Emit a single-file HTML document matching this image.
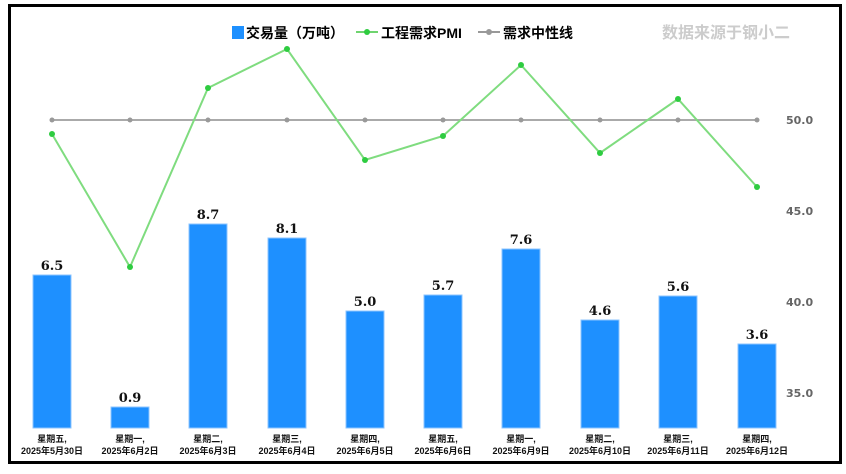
<!DOCTYPE html>
<html><head><meta charset="utf-8"><style>
body{margin:0;background:#fff;}
svg{display:block;font-family:"Liberation Sans","Noto Sans CJK SC",sans-serif;}
</style></head><body>
<svg width="846" height="474" viewBox="0 0 846 474">
<rect x="0" y="0" width="846" height="474" fill="#fff"/>
<rect x="9.5" y="5.5" width="831" height="457" fill="none" stroke="#000" stroke-width="3"/>
<g font-size="14" font-weight="bold" fill="#000">
<rect x="232" y="26" width="12" height="13" fill="#1e90ff"/>
<text x="246" y="38">交易量（万吨）</text>
<line x1="356" y1="32" x2="378" y2="32" stroke="#6fd46f" stroke-width="2"/><circle cx="367" cy="32" r="3" fill="#2ecc40"/>
<text x="381" y="38">工程需求PMI</text>
<line x1="478" y1="32" x2="500" y2="32" stroke="#999" stroke-width="2"/><circle cx="489" cy="32" r="3" fill="#999"/>
<text x="503" y="38">需求中性线</text>
</g>
<text x="662" y="38" font-size="16" font-weight="bold" fill="#ccc">数据来源于钢小二</text>
<g font-size="11" font-weight="bold" fill="#666" font-family="DejaVu Sans, sans-serif">
<text x="786" y="124">50.0</text><text x="786" y="215">45.0</text><text x="786" y="306">40.0</text><text x="786" y="397">35.0</text>
</g>
<g fill="#1e90ff" stroke="#8cc4ff" stroke-width="1">
<rect x="33" y="275" width="38" height="153"/>
<rect x="111" y="407" width="38" height="21"/>
<rect x="189" y="224" width="38" height="204"/>
<rect x="268" y="238" width="38" height="190"/>
<rect x="346" y="311" width="38" height="117"/>
<rect x="424" y="295" width="38" height="133"/>
<rect x="502" y="249" width="38" height="179"/>
<rect x="581" y="320" width="38" height="108"/>
<rect x="659" y="296" width="38" height="132"/>
<rect x="738" y="344" width="38" height="84"/>
</g>
<g font-size="13" font-weight="bold" fill="#111" text-anchor="middle" font-family="DejaVu Serif, serif">
<text x="52" y="270">6.5</text><text x="130" y="402">0.9</text><text x="208" y="219">8.7</text><text x="287" y="233">8.1</text><text x="365" y="306">5.0</text><text x="443" y="290">5.7</text><text x="521" y="244">7.6</text><text x="600" y="315">4.6</text><text x="678" y="291">5.6</text><text x="757" y="339">3.6</text>
</g>
<g font-size="9" font-weight="bold" fill="#111" text-anchor="middle">
<text x="52" y="442">星期五,</text><text x="52" y="454">2025年5月30日</text>
<text x="130" y="442">星期一,</text><text x="130" y="454">2025年6月2日</text>
<text x="208" y="442">星期二,</text><text x="208" y="454">2025年6月3日</text>
<text x="287" y="442">星期三,</text><text x="287" y="454">2025年6月4日</text>
<text x="365" y="442">星期四,</text><text x="365" y="454">2025年6月5日</text>
<text x="443" y="442">星期五,</text><text x="443" y="454">2025年6月6日</text>
<text x="521" y="442">星期一,</text><text x="521" y="454">2025年6月9日</text>
<text x="600" y="442">星期二,</text><text x="600" y="454">2025年6月10日</text>
<text x="678" y="442">星期三,</text><text x="678" y="454">2025年6月11日</text>
<text x="757" y="442">星期四,</text><text x="757" y="454">2025年6月12日</text>
</g>
<polyline points="52,120 757,120" stroke="#aaa" stroke-width="2" fill="none"/>
<g fill="#999"><circle cx="52" cy="120" r="2.5"/><circle cx="130" cy="120" r="2.5"/><circle cx="208" cy="120" r="2.5"/><circle cx="287" cy="120" r="2.5"/><circle cx="365" cy="120" r="2.5"/><circle cx="443" cy="120" r="2.5"/><circle cx="521" cy="120" r="2.5"/><circle cx="600" cy="120" r="2.5"/><circle cx="678" cy="120" r="2.5"/><circle cx="757" cy="120" r="2.5"/></g>
<polyline points="52,134 130,267 208,88 287,49 365,160 443,136 521,65 600,153 678,99 757,187" stroke="#7fdc7f" stroke-width="2" fill="none"/>
<g fill="#2ecc40"><circle cx="52" cy="134" r="3"/><circle cx="130" cy="267" r="3"/><circle cx="208" cy="88" r="3"/><circle cx="287" cy="49" r="3"/><circle cx="365" cy="160" r="3"/><circle cx="443" cy="136" r="3"/><circle cx="521" cy="65" r="3"/><circle cx="600" cy="153" r="3"/><circle cx="678" cy="99" r="3"/><circle cx="757" cy="187" r="3"/></g>
</svg>
</body></html>
